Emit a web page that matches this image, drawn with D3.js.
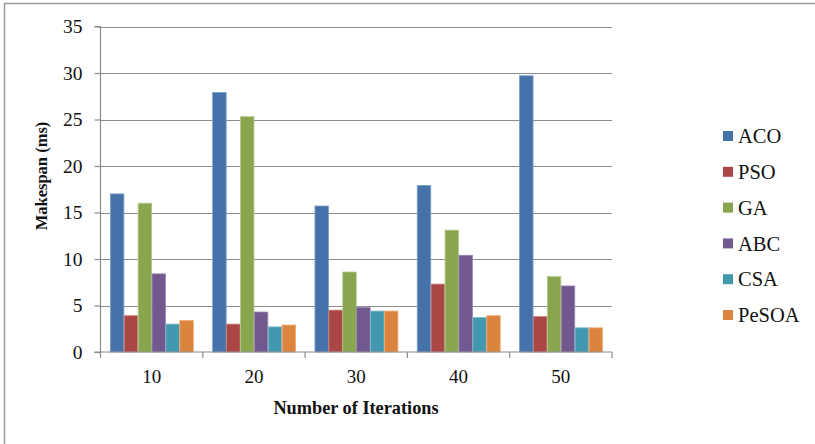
<!DOCTYPE html>
<html>
<head>
<meta charset="utf-8">
<script src="https://cdn.jsdelivr.net/npm/d3@7"></script>
<style>
  html, body { margin: 0; padding: 0; background: #fff; }
  svg { display: block; }
  svg text { font-family: "Liberation Serif", "Times New Roman", Times, serif !important; fill: #111; }
</style>
</head>
<body>
<svg id="chart" width="815" height="444"></svg>
<script>
// Makespan per algorithm for each iteration count
const iterations = ["10", "20", "30", "40", "50"];
const algorithms = ["ACO", "PSO", "GA", "ABC", "CSA", "PeSOA"];
const aco   = [17.0, 27.9, 15.7, 17.9, 29.7];
const pso   = [3.9, 3.0, 4.5, 7.3, 3.8];
const ga    = [16.0, 25.3, 8.6, 13.1, 8.1];
const abc   = [8.4, 4.3, 4.8, 10.4, 7.1];
const csa   = [3.0, 2.7, 4.4, 3.7, 2.6];
const pesoa = [3.4, 2.9, 4.4, 3.9, 2.6];
const yTicks = [0, 5, 10, 15, 20, 25, 30, 35];

const seriesValues = [aco, pso, ga, abc, csa, pesoa];
const colors = ["#4672AA", "#AA4644", "#89A54E", "#71588F", "#4198AF", "#DB843D"];
const edges  = ["#7C9CC8", "#C87C7A", "#B1C98A", "#9A86B4", "#7DBBCC", "#F0AE78"];

const svg = d3.select("#chart");
const margin = { left: 100.5, right: 203, top: 26.5, bottom: 92 };
const W = 815, H = 444;

const x0 = d3.scaleBand().domain(iterations)
  .range([margin.left, W - margin.right]).paddingInner(0).paddingOuter(0);
const x1 = d3.scaleBand().domain(algorithms)
  .range([0, x0.bandwidth()]).paddingInner(0).paddingOuter(0.68);
const y = d3.scaleLinear().domain([0, 35]).range([H - margin.bottom, margin.top]);

// outer frame (only the left and top edges fall inside the view)
svg.append("path")
  .attr("d", `M4.5,${H + 5} V3.5 H${W + 5}`)
  .attr("fill", "none").attr("stroke", "#9a9a9a").attr("stroke-width", 1.5);

// horizontal gridlines
svg.append("g").selectAll("line").data(yTicks.filter(t => t > 0)).join("line")
  .attr("x1", margin.left).attr("x2", W - margin.right)
  .attr("y1", d => Math.round(y(d)) + 0.5).attr("y2", d => Math.round(y(d)) + 0.5)
  .attr("stroke", "#8c8c8c").attr("stroke-width", 1.2);

// bars
const groups = svg.append("g").selectAll("g").data(iterations).join("g")
  .attr("transform", d => `translate(${x0(d)},0)`);
groups.selectAll("rect")
  .data((d, i) => algorithms.map((a, k) => ({ a, k, v: seriesValues[k][i] })))
  .join("rect")
  .attr("x", d => x1(d.a) + 0.4)
  .attr("width", x1.bandwidth() - 0.4)
  .attr("y", d => y(d.v))
  .attr("height", d => y(0) - y(d.v))
  .attr("fill", d => colors[d.k])
  .attr("stroke", d => edges[d.k]).attr("stroke-width", 0.8);

// y axis
const yAxis = d3.axisLeft(y).tickValues(yTicks).tickSize(6).tickPadding(12);
const gy = svg.append("g").attr("transform", `translate(${margin.left},0)`).call(yAxis);
gy.select(".domain").attr("stroke", "#8c8c8c").attr("stroke-width", 1.2)
  .attr("d", `M-6,${y(35)}H0V${y(0)}H-6`);
gy.selectAll(".tick line").attr("stroke", "#8c8c8c").attr("stroke-width", 1.2);
gy.selectAll(".tick text").attr("font-size", 19.5);

// x axis
const xAxis = d3.axisBottom(x0).tickSize(0).tickPadding(18);
const gx = svg.append("g").attr("transform", `translate(0,${y(0)})`).call(xAxis);
gx.select(".domain").attr("stroke", "#8c8c8c").attr("stroke-width", 1.2)
  .attr("d", `M${margin.left},0H${W - margin.right}`);
gx.selectAll(".tick text").attr("font-size", 19);
// category separators
svg.append("g").selectAll("line")
  .data(iterations.map(d => x0(d)).concat([W - margin.right])).join("line")
  .attr("x1", d => d).attr("x2", d => d)
  .attr("y1", y(0)).attr("y2", y(0) + 6)
  .attr("stroke", "#8c8c8c").attr("stroke-width", 1.2);

// axis titles
svg.append("text")
  .attr("transform", `translate(47,176) rotate(-90)`)
  .attr("text-anchor", "middle").attr("font-weight", "bold").attr("font-size", 16.5)
  .text("Makespan (ms)");
svg.append("text")
  .attr("x", 356).attr("y", 414)
  .attr("text-anchor", "middle").attr("font-weight", "bold").attr("font-size", 18.3)
  .text("Number of Iterations");

// legend
const legend = svg.append("g").selectAll("g").data(algorithms).join("g")
  .attr("transform", (d, i) => `translate(723,${136 + i * 35.8})`);
legend.append("rect").attr("x", 0).attr("y", -5).attr("width", 10).attr("height", 10)
  .attr("fill", (d, i) => colors[i]);
legend.append("text").attr("x", 15).attr("y", 0).attr("dy", "0.35em")
  .attr("font-size", 20.5).text(d => d);
</script>
</body>
</html>
